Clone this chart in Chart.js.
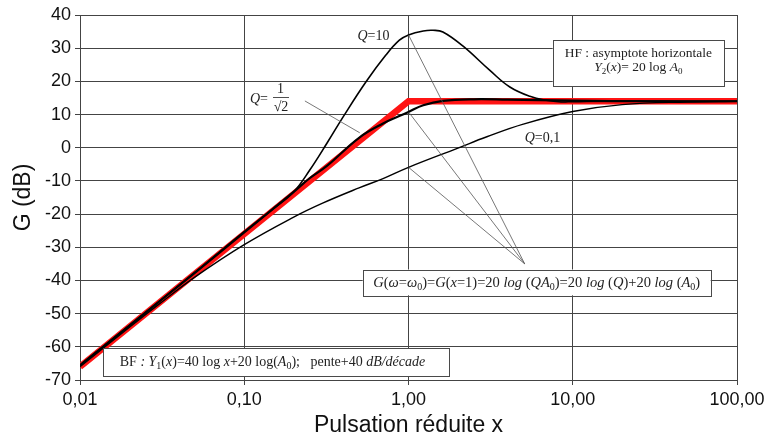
<!DOCTYPE html>
<html>
<head>
<meta charset="utf-8">
<script src="https://cdn.jsdelivr.net/npm/chart.js@4.4.1/dist/chart.umd.min.js"></script>
<style>
  html, body { margin: 0; padding: 0; background: #ffffff; }
  #bode { display: block; }
</style>
</head>
<body>
<canvas id="bode" width="769" height="441"></canvas>
<script>
// Gain of a 2nd order high-pass filter
const xTicks = [0.01, 0.1, 1, 10, 100];

const xAsym = [0.01, 1, 100];
const gAsym = [-66, 14, 14];

const xQ10 = [0.01, 0.02, 0.05, 0.1, 0.15, 0.2, 0.25, 0.32, 0.4, 0.55, 0.73, 0.88, 1, 1.23, 1.41, 1.62, 2.15, 3.13, 4.14, 5.48, 6.9, 8.5, 10, 20, 50, 100];
const gQ10 = [-65.5, -53.5, -37.6, -25.3, -18.4, -13.3, -6.8, 1.5, 9.3, 19.8, 28.0, 32.4, 34.0, 35.2, 35.4, 34.9, 30.6, 23.3, 18.3, 15.5, 14.3, 13.8, 13.9, 14.1, 14.0, 14.0];

const xQ707 = [0.01, 0.02, 0.05, 0.1, 0.2, 0.25, 0.32, 0.5, 0.7, 0.885, 1, 1.23, 1.62, 2.5, 4, 10, 30, 100];
const gQ707 = [-65.6, -53.6, -37.7, -25.5, -13.3, -9.2, -5.4, 3.0, 7.3, 9.6, 10.8, 12.8, 14.1, 14.6, 14.5, 14.2, 14.0, 14.0];

const xQ01 = [0.01, 0.02, 0.03, 0.05, 0.1, 0.2, 0.3, 0.5, 0.7, 1, 2, 3, 5, 10, 20, 50, 100];
const gQ01 = [-66, -54.1, -47.3, -39, -29.2, -20.9, -16.7, -12.1, -9.3, -5.9, -0.1, 3.3, 7.1, 10.9, 13.0, 13.8, 14.0];

function toPoints(xs, ys) {
    return xs.map((x, i) => ({ x: x, y: ys[i] }));
}

const SERIF = '"Liberation Serif", "Times New Roman", serif';
const SANS = '"Liberation Sans", Arial, sans-serif';

function runFont(r, size) {
    const s = r[1] === 's' ? Math.round(size * 0.7) : size;
    const it = r[1] === 'i' ? 'italic ' : '';
    return it + s + 'px ' + SERIF;
}

function richWidth(ctx, runs, size) {
    let w = 0;
    runs.forEach(r => {
        ctx.font = runFont(r, size);
        w += ctx.measureText(r[0]).width;
    });
    return w;
}

// draws a line of mixed regular / italic / subscript text centred on cx
function drawRich(ctx, runs, cx, cy, size, alignLeft) {
    let x = alignLeft ? cx : cx - richWidth(ctx, runs, size) / 2;
    ctx.textAlign = 'left';
    ctx.textBaseline = 'alphabetic';
    runs.forEach(r => {
        ctx.font = runFont(r, size);
        const dy = r[1] === 's' ? size * 0.22 : 0;
        ctx.fillText(r[0], x, cy + size * 0.33 + dy);
        x += ctx.measureText(r[0]).width;
    });
}

function drawBox(ctx, x1, y1, x2, y2) {
    ctx.fillStyle = '#ffffff';
    ctx.fillRect(x1, y1, x2 - x1, y2 - y1);
    ctx.strokeStyle = '#4a4a4a';
    ctx.lineWidth = 1;
    ctx.strokeRect(Math.round(x1) + 0.5, Math.round(y1) + 0.5, Math.round(x2 - x1), Math.round(y2 - y1));
}

const annotations = {
    id: 'annotations',
    afterDatasetsDraw(chart) {
        const ctx = chart.ctx;
        const xs = chart.scales.x;
        const ys = chart.scales.y;
        const px = v => xs.getPixelForValue(v);
        const py = v => ys.getPixelForValue(v);

        ctx.save();

        // leader lines
        ctx.strokeStyle = '#555555';
        ctx.lineWidth = 0.8;
        const leaders = [
            [0.234, 14.1, 0.505, 4.5],
            [1, 34.0, 5.1, -35],
            [1, 10.8, 5.1, -35],
            [1, -5.9, 5.1, -35]
        ];
        leaders.forEach(l => {
            ctx.beginPath();
            ctx.moveTo(px(l[0]), py(l[1]));
            ctx.lineTo(px(l[2]), py(l[3]));
            ctx.stroke();
        });

        ctx.fillStyle = '#222222';

        // curve labels
        drawRich(ctx, [['Q', 'i'], ['=10', 'r']], 373.5, 35, 14);
        drawRich(ctx, [['Q', 'i'], ['=0,1', 'r']], 542.5, 137, 14);
        drawRich(ctx, [['Q', 'i'], ['=', 'r']], 250, 98, 14, true);
        ctx.font = '14px ' + SERIF;
        ctx.textAlign = 'center';
        ctx.textBaseline = 'middle';
        ctx.fillText('1', 280.5, 89.5);
        ctx.fillText('\u221A2', 281, 107);
        ctx.strokeStyle = '#222222';
        ctx.lineWidth = 0.8;
        ctx.beginPath();
        ctx.moveTo(273, 97.5);
        ctx.lineTo(289, 97.5);
        ctx.stroke();

        // HF box
        drawBox(ctx, 552.7, 40, 724, 86);
        ctx.fillStyle = '#222222';
        drawRich(ctx, [['HF : asymptote horizontale', 'r']], 638.3, 52.5, 13.5);
        drawRich(ctx, [['Y', 'i'], ['2', 's'], ['(', 'r'], ['x', 'i'], [')= 20 log ', 'r'], ['A', 'i'], ['0', 's']], 638.3, 67, 13.5);

        // G(x=1) box
        drawBox(ctx, 362.7, 269.5, 710.7, 295.3);
        ctx.fillStyle = '#222222';
        drawRich(ctx, [
            ['G', 'i'], ['(', 'r'], ['\u03C9', 'i'], ['=', 'r'], ['\u03C9', 'i'], ['0', 's'], [')=', 'r'],
            ['G', 'i'], ['(', 'r'], ['x', 'i'], ['=1)=20 ', 'r'], ['log', 'i'], [' (', 'r'], ['QA', 'i'], ['0', 's'],
            [')=20 ', 'r'], ['log', 'i'], [' (', 'r'], ['Q', 'i'], [')+20 ', 'r'], ['log', 'i'], [' (', 'r'],
            ['A', 'i'], ['0', 's'], [')', 'r']
        ], 536.7, 282, 14.5);

        // BF box
        drawBox(ctx, 103.3, 348.3, 449.3, 376);
        ctx.fillStyle = '#222222';
        drawRich(ctx, [
            ['BF', 'r'], [' : ', 'i'], ['Y', 'i'], ['1', 's'], ['(', 'r'], ['x', 'i'], [')=40 log ', 'r'],
            ['x', 'i'], ['+20 log(', 'r'], ['A', 'i'], ['0', 's'], [');', 'r'], ['   pente+40 ', 'r'],
            ['dB/d\u00E9cade', 'i']
        ], 272.5, 361, 14);

        ctx.restore();
    }
};

const ctx = document.getElementById('bode');

new Chart(ctx, {
    type: 'line',
    data: {
        datasets: [
            {
                label: 'Q=10',
                data: toPoints(xQ10, gQ10),
                borderColor: '#000000',
                borderWidth: 1.6,
                pointRadius: 0,
                tension: 0.4
            },
            {
                label: 'Q=1/\u221A2',
                data: toPoints(xQ707, gQ707),
                borderColor: '#000000',
                borderWidth: 2.2,
                pointRadius: 0,
                tension: 0.4
            },
            {
                label: 'Q=0,1',
                data: toPoints(xQ01, gQ01),
                borderColor: '#000000',
                borderWidth: 1.4,
                pointRadius: 0,
                tension: 0.4
            },
            {
                label: 'Asymptotes',
                data: toPoints(xAsym, gAsym),
                borderColor: '#ff1414',
                borderWidth: 6.5,
                pointRadius: 0,
                tension: 0
            }
        ]
    },
    options: {
        responsive: false,
        animation: false,
        layout: {
            padding: { top: 15, right: 32, left: 0, bottom: 0 }
        },
        plugins: {
            legend: { display: false },
            tooltip: { enabled: false }
        },
        scales: {
            x: {
                type: 'logarithmic',
                min: 0.01,
                max: 100,
                afterBuildTicks: scale => {
                    scale.ticks = xTicks.map(v => ({ value: v }));
                },
                afterFit: scale => {
                    scale.height = 61;
                },
                ticks: {
                    autoSkip: false,
                    maxRotation: 0,
                    padding: 4,
                    color: '#111111',
                    font: { family: SANS, size: 18 },
                    callback: value => Number(value).toFixed(2).replace('.', ',')
                },
                grid: {
                    color: '#444444',
                    lineWidth: 1,
                    tickLength: 5
                },
                border: { color: '#444444' },
                title: {
                    display: true,
                    text: 'Pulsation r\u00E9duite x',
                    color: '#111111',
                    font: { family: SANS, size: 23 },
                    padding: { top: 0, bottom: 2 }
                }
            },
            y: {
                min: -70,
                max: 40,
                afterFit: scale => {
                    scale.width = 80;
                },
                ticks: {
                    stepSize: 10,
                    padding: 4,
                    color: '#111111',
                    font: { family: SANS, size: 18 }
                },
                grid: {
                    color: '#444444',
                    lineWidth: 1,
                    tickLength: 5
                },
                border: { color: '#444444' },
                title: {
                    display: true,
                    text: 'G (dB)',
                    color: '#111111',
                    font: { family: SANS, size: 23 },
                    padding: { top: 10, bottom: 0 }
                }
            }
        }
    },
    plugins: [annotations]
});
</script>
</body>
</html>
